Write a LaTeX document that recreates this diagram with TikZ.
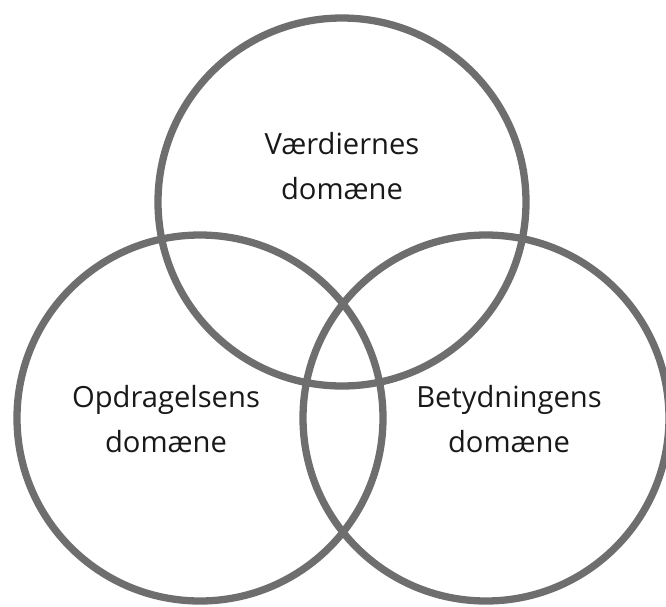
\documentclass[tikz,border=0pt]{standalone}
\usepackage{fontspec}
\setmainfont{Open Sans}

\begin{document}
\begin{tikzpicture}[
		x=0.02cm, y=-0.02cm,
		font=\fontsize{16.6}{26}\selectfont,
		line join=round,
		line cap=round,
		ring/.style={draw=black!57, line width=4.15pt},
		domtext/.style={align=center, text=black!90, inner sep=0pt}
		]
		
		\useasboundingbox (0,0) rectangle (666,606);
		\clip (0,0) rectangle (666,606);
		
		% the three circles
		\draw[ring] (342,202) coordinate(V) circle(184);
		\draw[ring] (200,418) coordinate(O) circle(183);
		\draw[ring] (486,418) coordinate(B) circle(183);
		
		\node[domtext] (vaerdi) at (342,166) {Værdiernes\\domæne};
		\node[domtext] (opdrag) at (166,419) {Opdragelsens\\domæne};
		\node[domtext] (betyd) at (509,419) {Betydningens\\domæne};
		
	\end{tikzpicture}
\end{document}
